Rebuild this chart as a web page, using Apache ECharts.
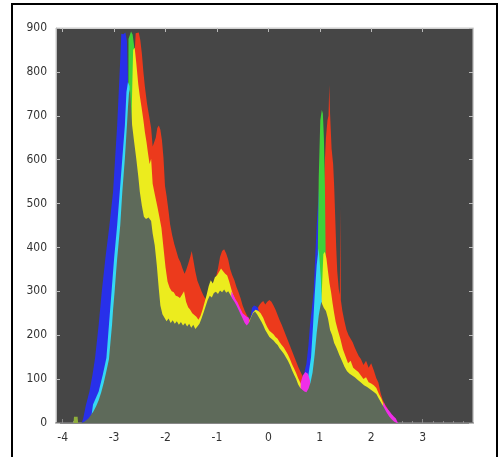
<!DOCTYPE html>
<html>
<head>
<meta charset="utf-8">
<script src="https://cdn.jsdelivr.net/npm/echarts@6/dist/echarts.min.js"></script>
<style>
html,body{margin:0;padding:0;background:#fff;}
#chart{width:501px;height:457px;}
</style>
</head>
<body>
<div id="chart"></div>
<script>
// Tick values
const xTicks = [-4, -3, -2, -1, 0, 1, 2, 3];
const xMinorTicks = [-3.8,-3.6,-3.4,-3.2,-2.8,-2.6,-2.4,-2.2,-1.8,-1.6,-1.4,-1.2,-0.8,-0.6,-0.4,-0.2,0.2,0.4,0.6,0.8,1.2,1.4,1.6,1.8,2.2,2.4,2.6,2.8,3.2,3.4,3.6,3.8];

// Series values: [x, count]
const redVals = [[-2.75,0],[-2.62,800],[-2.58,888],[-2.52,890],[-2.49,872],[-2.46,842],[-2.43,800],[-2.4,765],[-2.36,728],[-2.32,700],[-2.28,672],[-2.25,630],[-2.22,628],[-2.19,650],[-2.16,672],[-2.13,678],[-2.1,668],[-2.07,645],[-2.04,605],[-2.01,540],[-1.98,518],[-1.94,482],[-1.91,452],[-1.87,428],[-1.83,408],[-1.79,392],[-1.75,376],[-1.71,366],[-1.67,352],[-1.63,340],[-1.6,348],[-1.56,362],[-1.52,378],[-1.49,392],[-1.46,372],[-1.42,345],[-1.38,324],[-1.34,312],[-1.3,300],[-1.26,290],[-1.22,282],[-1.18,288],[-1.14,300],[-1.1,306],[-1.06,316],[-1.02,332],[-0.98,352],[-0.94,378],[-0.9,392],[-0.86,396],[-0.82,386],[-0.78,372],[-0.74,350],[-0.7,336],[-0.66,325],[-0.62,310],[-0.58,298],[-0.54,284],[-0.5,268],[-0.46,256],[-0.42,246],[-0.38,238],[-0.34,236],[-0.3,240],[-0.26,248],[-0.22,258],[-0.18,268],[-0.14,274],[-0.1,278],[-0.06,270],[-0.02,276],[0.02,280],[0.06,276],[0.1,268],[0.14,258],[0.18,246],[0.22,234],[0.26,224],[0.3,212],[0.34,200],[0.38,188],[0.42,176],[0.46,164],[0.5,152],[0.54,140],[0.58,128],[0.62,118],[0.66,108],[0.7,95],[0.75,82],[0.85,100],[0.95,200],[1.05,450],[1.1,600],[1.12,650],[1.15,690],[1.17,700],[1.185,770],[1.2,705],[1.23,625],[1.26,590],[1.28,540],[1.3,470],[1.32,400],[1.34,345],[1.37,305],[1.39,292],[1.4,490],[1.41,280],[1.44,255],[1.48,232],[1.52,212],[1.56,200],[1.6,192],[1.64,184],[1.68,172],[1.72,162],[1.76,152],[1.8,146],[1.85,132],[1.9,142],[1.95,126],[2.0,136],[2.05,120],[2.1,102],[2.14,92],[2.18,70],[2.22,54],[2.27,42],[2.31,35],[2.35,25],[2.4,16],[2.45,8],[2.5,0]];

const blueVals = [[-3.63,0],[-3.6,11],[-3.55,40],[-3.48,72],[-3.42,110],[-3.37,148],[-3.3,224],[-3.24,299],[-3.17,375],[-3.09,451],[-3.02,527],[-2.98,603],[-2.94,679],[-2.91,754],[-2.88,830],[-2.86,887],[-2.82,886],[-2.78,890],[-2.75,870],[-2.73,780],[-2.7,0],[-0.4,0],[-0.36,230],[-0.32,262],[-0.28,268],[-0.24,266],[-0.2,262],[-0.16,240],[-0.12,0],[0.6,0],[0.63,70],[0.66,100],[0.7,115],[0.74,135],[0.78,178],[0.81,224],[0.85,265],[0.88,299],[0.91,375],[0.94,451],[0.98,527],[1.0,560],[1.03,565],[1.06,450],[1.1,0]];

const greenVals = [[-2.74,0],[-2.72,875],[-2.67,892],[-2.64,885],[-2.6,850],[-2.56,700],[-2.52,0],[-1.17,0],[-1.14,330],[-1.11,0],[0.92,0],[0.98,560],[1.01,690],[1.04,713],[1.06,705],[1.08,650],[1.1,540],[1.12,320],[1.15,0]];

const oliveVals = [[-3.79,0],[-3.78,14],[-3.71,14],[-3.7,0]];

const yellowVals = [[-2.72,0],[-2.66,700],[-2.63,850],[-2.6,855],[-2.57,822],[-2.53,772],[-2.5,745],[-2.47,722],[-2.43,690],[-2.4,662],[-2.37,640],[-2.34,614],[-2.31,590],[-2.28,602],[-2.25,545],[-2.21,522],[-2.16,494],[-2.12,470],[-2.08,445],[-2.04,400],[-2.0,355],[-1.96,322],[-1.92,308],[-1.88,300],[-1.84,298],[-1.8,290],[-1.76,288],[-1.72,285],[-1.68,292],[-1.64,300],[-1.6,276],[-1.56,264],[-1.52,258],[-1.48,250],[-1.44,246],[-1.4,242],[-1.36,235],[-1.32,244],[-1.28,258],[-1.24,275],[-1.2,292],[-1.16,312],[-1.12,325],[-1.08,318],[-1.04,332],[-1.0,336],[-0.96,344],[-0.92,352],[-0.88,346],[-0.84,340],[-0.8,336],[-0.76,322],[-0.72,305],[-0.68,290],[-0.64,280],[-0.6,270],[-0.55,255],[-0.5,242],[-0.45,232],[-0.4,226],[-0.35,238],[-0.3,252],[-0.25,258],[-0.2,256],[-0.15,250],[-0.1,240],[-0.06,228],[-0.02,218],[0.02,210],[0.06,206],[0.1,202],[0.14,196],[0.18,192],[0.22,184],[0.26,178],[0.3,172],[0.34,164],[0.38,156],[0.42,146],[0.46,134],[0.5,124],[0.54,114],[0.58,102],[0.62,92],[0.66,84],[0.7,76],[0.74,72],[0.8,80],[0.9,120],[1.0,250],[1.04,300],[1.07,385],[1.1,390],[1.13,375],[1.16,345],[1.19,318],[1.22,298],[1.25,272],[1.28,250],[1.31,230],[1.35,212],[1.4,192],[1.45,168],[1.5,152],[1.55,136],[1.6,142],[1.65,126],[1.7,121],[1.75,116],[1.8,108],[1.85,100],[1.9,104],[1.95,93],[2.0,90],[2.05,86],[2.1,80],[2.15,66],[2.2,55],[2.25,40],[2.3,26],[2.35,16],[2.4,8],[2.45,3],[2.5,0]];

const cyanVals = [[-3.46,0],[-3.41,42],[-3.3,72],[-3.22,110],[-3.15,148],[-3.1,224],[-3.05,299],[-3.0,375],[-2.94,451],[-2.89,527],[-2.84,603],[-2.79,679],[-2.76,754],[-2.73,777],[-2.7,768],[-2.66,500],[-2.6,0],[0.7,0],[0.72,70],[0.78,110],[0.83,150],[0.87,224],[0.9,290],[0.94,360],[0.98,398],[1.0,400],[1.02,330],[1.04,275],[1.08,0]];

const magentaVals = [[-0.76,0],[-0.72,300],[-0.68,292],[-0.64,282],[-0.6,275],[-0.55,262],[-0.5,250],[-0.46,246],[-0.42,242],[-0.38,240],[-0.35,236],[-0.33,0],[0.6,0],[0.63,92],[0.67,108],[0.72,116],[0.77,112],[0.81,96],[0.84,0],[2.2,0],[2.24,48],[2.28,38],[2.32,32],[2.36,26],[2.4,20],[2.44,15],[2.48,10],[2.52,0]];

const grayVals = [[-3.64,0],[-3.58,3],[-3.5,10],[-3.45,18],[-3.4,27],[-3.35,38],[-3.3,52],[-3.25,70],[-3.2,92],[-3.15,118],[-3.1,145],[-3.07,185],[-3.04,224],[-3.02,258],[-2.99,299],[-2.965,338],[-2.94,375],[-2.91,413],[-2.88,451],[-2.86,490],[-2.84,527],[-2.815,565],[-2.79,603],[-2.77,641],[-2.75,679],[-2.73,720],[-2.71,752],[-2.69,760],[-2.67,720],[-2.65,679],[-2.61,640],[-2.57,603],[-2.53,562],[-2.5,527],[-2.46,495],[-2.42,470],[-2.38,465],[-2.33,468],[-2.28,460],[-2.25,432],[-2.21,405],[-2.17,360],[-2.13,305],[-2.1,268],[-2.06,248],[-2.02,240],[-1.98,232],[-1.94,238],[-1.9,228],[-1.86,234],[-1.82,226],[-1.78,232],[-1.74,224],[-1.7,230],[-1.66,222],[-1.62,228],[-1.58,220],[-1.54,226],[-1.5,217],[-1.46,224],[-1.42,214],[-1.38,220],[-1.34,226],[-1.3,238],[-1.26,252],[-1.22,266],[-1.18,280],[-1.14,290],[-1.1,286],[-1.06,296],[-1.02,299],[-0.98,294],[-0.94,302],[-0.9,298],[-0.86,304],[-0.82,297],[-0.78,300],[-0.74,292],[-0.7,283],[-0.66,276],[-0.62,268],[-0.58,258],[-0.54,248],[-0.5,238],[-0.46,228],[-0.42,222],[-0.38,228],[-0.34,240],[-0.3,250],[-0.26,254],[-0.22,248],[-0.18,240],[-0.14,232],[-0.1,223],[-0.06,212],[-0.02,204],[0.02,196],[0.06,192],[0.1,188],[0.14,182],[0.18,178],[0.22,170],[0.26,164],[0.3,158],[0.34,150],[0.38,142],[0.42,132],[0.46,120],[0.5,110],[0.54,100],[0.58,88],[0.62,80],[0.66,76],[0.7,72],[0.74,70],[0.78,78],[0.82,92],[0.86,115],[0.9,155],[0.94,205],[0.98,245],[1.01,265],[1.03,276],[1.05,270],[1.08,262],[1.12,255],[1.16,238],[1.2,212],[1.24,200],[1.28,182],[1.33,170],[1.38,155],[1.43,142],[1.48,128],[1.53,118],[1.58,112],[1.63,108],[1.68,104],[1.74,98],[1.8,92],[1.86,86],[1.92,82],[1.98,77],[2.04,72],[2.1,66],[2.15,55],[2.2,45],[2.25,35],[2.3,24],[2.35,15],[2.4,8],[2.45,3],[2.5,0]];

const layers = [
  {name: 'olive', data: oliveVals, color: '#8fae3c'},
  {name: 'red', data: redVals, color: '#ec3a1c'},
  {name: 'blue', data: blueVals, color: '#2830ea'},
  {name: 'green', data: greenVals, color: '#3fd23a'},
  {name: 'yellow', data: yellowVals, color: '#ecec1e'},
  {name: 'cyan', data: cyanVals, color: '#35d8f2'},
  {name: 'magenta', data: magentaVals, color: '#f02ee8'},
  {name: 'gray', data: grayVals, color: '#5e6a5a'}
];

const FONT = "'Liberation Sans Narrow', 'DejaVu Sans Condensed', 'Liberation Sans', sans-serif";
const X_MIN = -4.13, X_MAX = 3.98;

const chart = echarts.init(document.getElementById('chart'), null, {renderer: 'canvas'});
chart.setOption({
  animation: false,
  backgroundColor: '#ffffff',
  grid: {left: 56, top: 28, right: 28, bottom: 34, show: true, backgroundColor: '#464646', borderColor: '#c8c8c8', borderWidth: 1},
  xAxis: [
    {type: 'value', min: X_MIN, max: X_MAX, position: 'bottom',
     axisLine: {show: true, onZero: false, lineStyle: {color: '#6a6a6a', width: 1.5}},
     splitLine: {show: false},
     axisTick: {show: true, inside: true, length: 4, customValues: xTicks, lineStyle: {color: '#888'}},
     axisLabel: {show: true, customValues: xTicks, color: '#333', fontSize: 12, margin: 9, fontFamily: FONT}},
    {type: 'value', min: X_MIN, max: X_MAX, position: 'bottom',
     axisLine: {show: false, onZero: false}, splitLine: {show: false},
     axisTick: {show: true, inside: true, length: 2, customValues: xMinorTicks, lineStyle: {color: '#888'}},
     axisLabel: {show: false}},
    {type: 'value', min: X_MIN, max: X_MAX, position: 'top',
     axisLine: {show: true, onZero: false, lineStyle: {color: '#d0d0d0'}}, splitLine: {show: false},
     axisTick: {show: true, inside: true, length: 4, customValues: xTicks, lineStyle: {color: '#bbb'}},
     axisLabel: {show: false}}
  ],
  yAxis: [
    {type: 'value', min: 0, max: 900, interval: 100, position: 'left',
     axisLine: {show: true, onZero: false, lineStyle: {color: '#bdbdbd'}},
     splitLine: {show: false},
     axisTick: {show: true, inside: true, length: 4, lineStyle: {color: '#bbb'}},
     axisLabel: {color: '#333', fontSize: 12, margin: 9, fontFamily: FONT}},
    {type: 'value', min: 0, max: 900, interval: 100, position: 'right',
     axisLine: {show: true, onZero: false, lineStyle: {color: '#d0d0d0'}},
     splitLine: {show: false},
     axisTick: {show: true, inside: true, length: 4, lineStyle: {color: '#bbb'}},
     axisLabel: {show: false}}
  ],
  series: layers.map(l => ({
    name: l.name, type: 'line', xAxisIndex: 0, yAxisIndex: 0,
    data: l.data, showSymbol: false, symbol: 'none', smooth: false,
    lineStyle: {width: 0, color: l.color},
    areaStyle: {color: l.color, opacity: 1, origin: 'start'},
    silent: true
  })),
  graphic: [
    {type: 'rect', shape: {x: 12, y: 4, width: 485, height: 480}, style: {fill: 'none', stroke: '#000', lineWidth: 2}, silent: true}
  ]
});
</script>
</body>
</html>
